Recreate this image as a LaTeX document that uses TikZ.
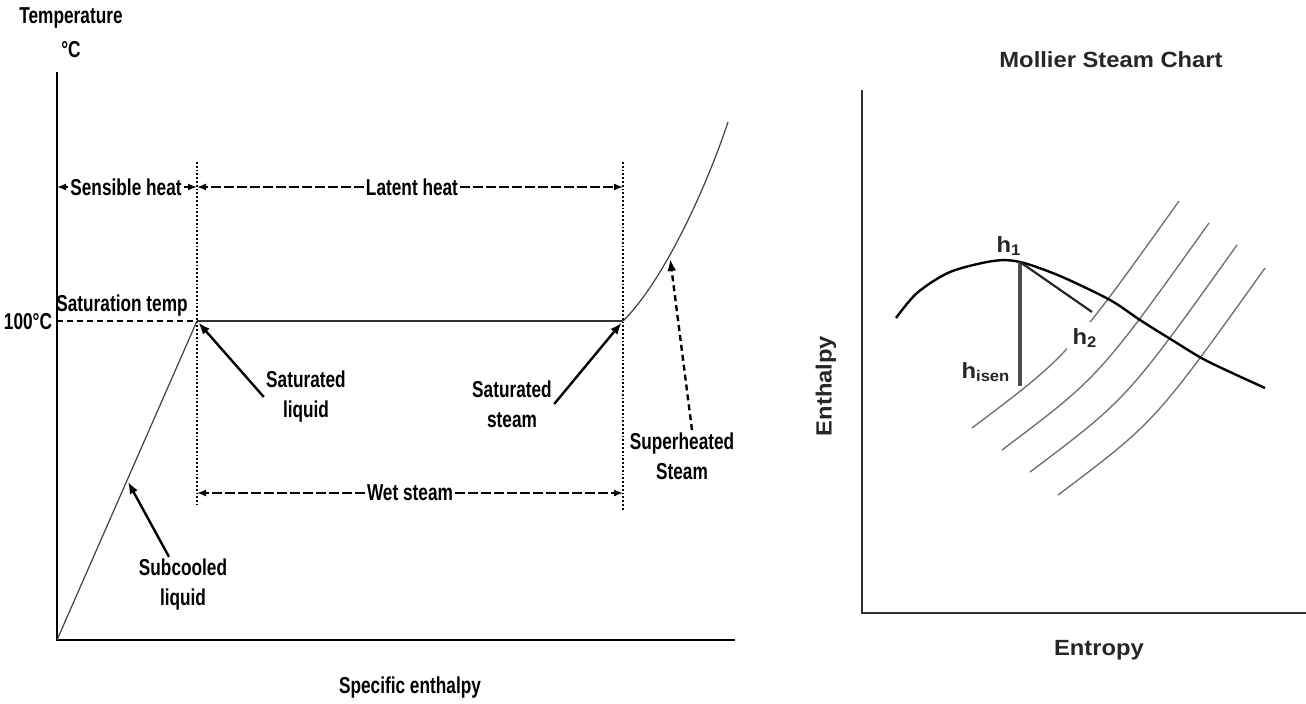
\documentclass[tikz,border=0pt]{standalone}
\usepackage{fontspec}
\setmainfont{Liberation Sans}
\newfontfamily\narrowsf[FakeStretch=0.75]{Liberation Sans}
\newfontfamily\widesf[FakeStretch=1.08]{Liberation Sans}
\usetikzlibrary{arrows.meta}
\tikzset{
  lbl/.style={font=\narrowsf\bfseries\fontsize{11.5}{15}\selectfont, inner sep=1pt, align=center},
  mlbl/.style={font=\widesf\bfseries\fontsize{11}{13}\selectfont, text=black!85, inner sep=1pt},
  hlbl/.style={font=\widesf\bfseries\fontsize{11}{13}\selectfont, text=black!85, inner sep=1pt},
  axis/.style={line width=1.1pt},
  span/.style={-{Latex[length=4.5pt,width=3.5pt]}, line width=0.7pt},
  spandash/.style={span, dash pattern=on 5pt off 1.5pt},
  pointer/.style={-{Latex[length=6pt,width=4.5pt]}, line width=1.2pt, shorten >=1pt},
  guide/.style={line width=0.9pt, densely dotted},
  curve/.style={line width=0.6pt, black!75},
  isobar/.style={line width=0.7pt, black!55}
}

\begin{document}
\begin{tikzpicture}[x=0.5pt,y=-0.5pt]
\useasboundingbox (0,0) rectangle (1306,704);

% temperature / enthalpy diagram
\coordinate (O) at (57,640);
\coordinate (sl) at (197,321);
\coordinate (sv) at (623,321);
\coordinate (top) at (728,122);
\draw[axis] (57,72) -- (O) -- (735,640);
\draw[curve] (O) -- (sl);
\draw[line width=1.3pt, black!80] (sl) -- (sv);
\draw[curve] (sv) .. controls (660,285) and (703,197) .. (top);
\draw[line width=0.9pt, densely dashed] (57,321) -- (sl);
\draw[guide] (197,162) -- (197,505);
\draw[guide] (623,162) -- (623,510);

\node[lbl] (tlab) at (71,18) {Temperature};
\node[lbl] (deg) at (71,50) {°C};
\node[lbl] (hundred) at (28,322) {100°C};
\node[lbl] (satT) at (122,306) {Saturation temp};
\node[lbl] (xlabL) at (410,688) {Specific enthalpy};

% heat spans
\coordinate (sensL) at (57,187);
\coordinate (sensR) at (197,187);
\coordinate (latR) at (623,187);
\coordinate (wetL) at (197,493);
\coordinate (wetR) at (623,493);
\node[lbl] (sens) at (126,187) {Sensible heat};
\node[lbl] (lat) at (412,187) {Latent heat};
\node[lbl] (wet) at (410,493) {Wet steam};
\draw[span] (sens.west) -- (sensL);
\draw[span] (sens.east) -- (sensR);
\draw[spandash] (lat.west) -- (sensR);
\draw[spandash] (lat.east) -- (latR);
\draw[spandash] (wet.west) -- (wetL);
\draw[spandash] (wet.east) -- (wetR);

% state labels
\coordinate (scp) at (127,480);
\coordinate (shp) at (670,257);
\node[lbl] (satliq) at (306,397) {Saturated\\liquid};
\node[lbl] (satst) at (512,404) {Saturated\\steam};
\node[lbl] (supst) at (682,456) {Superheated\\Steam};
\node[lbl] (subliq) at (183,585) {Subcooled\\liquid};
\draw[pointer] (satliq.west) -- (sl);
\draw[pointer] (satst.east) -- (sv);
\draw[pointer, densely dashed] ([xshift=5pt]supst.north) -- (shp);
\draw[pointer] ([xshift=-7pt]subliq.north) -- (scp);

% Mollier chart
\draw[axis, line width=1.3pt, black!80] (862,90) -- (862,613) -- (1306,613);
\node[mlbl] (title) at (1111,60) {Mollier Steam Chart};
\node[mlbl, rotate=90] (ylab) at (826,386) {Enthalpy};
\node[mlbl] (xlab) at (1099,650) {Entropy};

\foreach \dx/\dy in {-86/-67,-56/-45,-28/-23,0/0}
  \draw[isobar] ([shift={(\dx,\dy)}]1058,495) .. controls ([shift={(\dx,\dy)}]1155,422) .. ([shift={(\dx,\dy)}]1265,268);

\draw[line width=1.2pt] plot[smooth] coordinates {(896,318) (917,293) (950,272) (993,261) (1020,262) (1060,276) (1110,300) (1140,320) (1172,340) (1207,361) (1265,388)};

\coordinate (h1) at (1020,262);
\coordinate (h2) at (1092,312);
\coordinate (hs) at (1020,386);
\draw[line width=1.6pt, black!70] (h1) -- (hs);
\draw[line width=1.1pt, black!85] (h1) -- (h2);
\node[hlbl] (h1lab) at (1009,246) {h\textsubscript{1}};
\node[hlbl, fill=white, inner sep=3pt] (h2lab) at (1085,338) {h\textsubscript{2}};
\node[hlbl] (hslab) at (986,372) {h\textsubscript{isen}};
\end{tikzpicture}
\end{document}
